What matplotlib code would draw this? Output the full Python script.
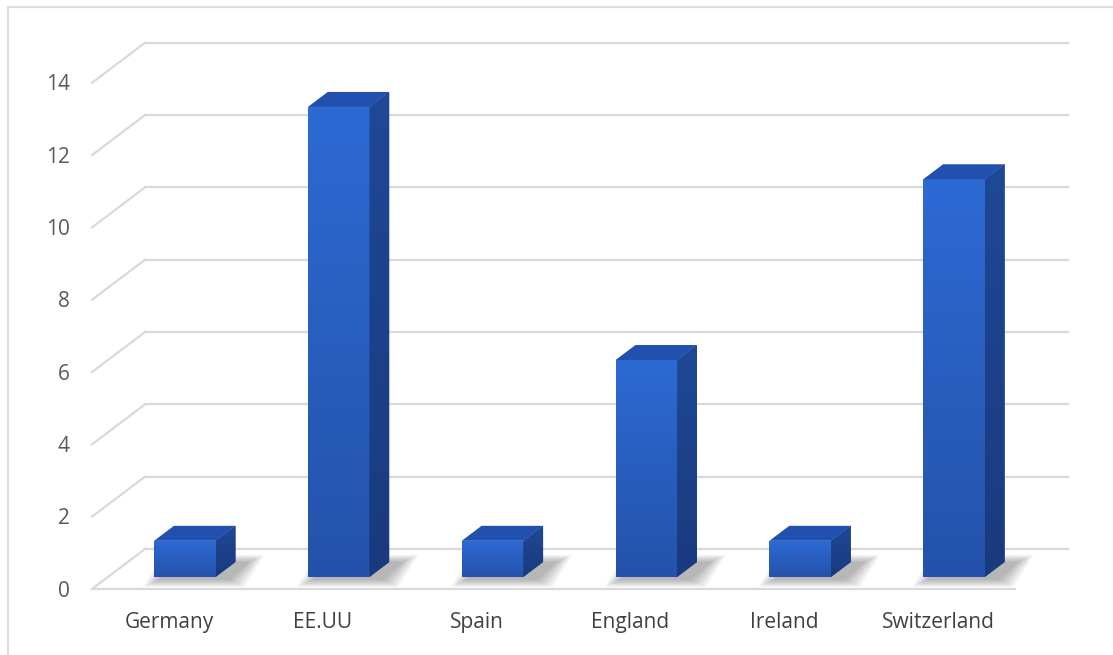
import numpy as np
import matplotlib.pyplot as plt
from matplotlib.patches import Polygon, Rectangle
from matplotlib.colors import LinearSegmentedColormap

# data
countries = ['Germany', 'EE.UU', 'Spain', 'England', 'Ireland', 'Switzerland']
values = [1, 13, 1, 6, 1, 11]
yticks = [0, 2, 4, 6, 8, 10, 12, 14]

# oblique "3D" depth: how far the back wall sits from the front edge
DX = 0.3445   # in category units
DY = 1.1065   # in value units
BAR_W = 0.4
BAR_FRONT = 0.3   # depth fraction of the bar's front face
BAR_BACK = 0.675  # depth fraction of the bar's back face

plt.rcParams['font.family'] = ['Open Sans', 'DejaVu Sans']

fig = plt.figure(figsize=(11.13, 6.55), dpi=100)
ax = fig.add_axes([0, 0, 1, 1])
ax.set_xlim(-1.098, 6.137)
ax.set_ylim(-1.826, 16.29)
ax.axis('off')

# frame around the chart area
fig.patches.append(Rectangle((8 / 1113, -0.1), 1.2, 1.1 - 6.5 / 655,
                             transform=fig.transFigure, fill=False,
                             edgecolor='#dcdce8', lw=1.6))

grid_c = '#d9d9d9'
x_left, x_right = -0.5, len(countries) - 0.5

# back wall gridlines plus the diagonal on the left side wall
for t in yticks:
    ax.plot([x_left + DX, x_right + DX], [t + DY, t + DY], color=grid_c, lw=1.6, zorder=1)
    ax.plot([x_left, x_left + DX], [t, t + DY], color=grid_c, lw=1.6, zorder=1)
    ax.text(x_left - 0.145, t - 0.06, str(t), ha='right', va='center',
            fontsize=15, color='#595959')

# front edge of the floor
ax.plot([x_left, x_right], [0, 0], color=grid_c, lw=1.6, zorder=1)

for i, c in enumerate(countries):
    ax.text(i, -0.92, c, ha='center', va='center', fontsize=15, color='#404040')

xs = np.arange(len(countries)) + DX * BAR_FRONT
yb = DY * BAR_FRONT
ddx = DX * (BAR_BACK - BAR_FRONT)
ddy = DY * (BAR_BACK - BAR_FRONT)

# soft floor shadows
for x, v in zip(xs, values):
    for k in range(10):
        e = 0.011 * k
        sx = 0.09
        pts = [(x - BAR_W / 2 - e + sx * 0.3, yb - 0.08 - e * 2),
               (x + BAR_W / 2 + e + sx, yb - 0.08 - e * 2),
               (x + BAR_W / 2 + ddx + e + sx, yb + ddy + e * 2),
               (x - BAR_W / 2 + ddx - e + sx * 0.3, yb + ddy + e * 2)]
        ax.add_patch(Polygon(pts, closed=True, facecolor='#303030',
                             edgecolor='none', alpha=0.04, zorder=2))

front_cmap = LinearSegmentedColormap.from_list('front', ['#2452aa', '#2d6ad4'])
side_cmap = LinearSegmentedColormap.from_list('side', ['#1a3a7e', '#1f4896'])
grad = np.linspace(0, 1, 256).reshape(-1, 1)

bars = ax.bar(xs, values, width=BAR_W, bottom=yb, color='#2860c2',
              linewidth=0, zorder=3)

for bar, v in zip(bars, values):
    x0 = bar.get_x()
    x1 = x0 + bar.get_width()
    yt = yb + v
    img = ax.imshow(grad, extent=[x0, x1, yb, yt], origin='lower',
                    cmap=front_cmap, aspect='auto', zorder=4)
    img.set_clip_path(bar)

    side = Polygon([(x1, yb), (x1 + ddx, yb + ddy), (x1 + ddx, yt + ddy), (x1, yt)],
                   closed=True, facecolor='#1d4189', edgecolor='none', zorder=3)
    ax.add_patch(side)
    simg = ax.imshow(grad, extent=[x1, x1 + ddx, yb, yt + ddy], origin='lower',
                     cmap=side_cmap, aspect='auto', zorder=4)
    simg.set_clip_path(side)

    top = Polygon([(x0, yt), (x1, yt), (x1 + ddx, yt + ddy), (x0 + ddx, yt + ddy)],
                  closed=True, facecolor='#2150ae', edgecolor='none', zorder=5)
    ax.add_patch(top)

ax.set_xlim(-1.098, 6.137)
ax.set_ylim(-1.826, 16.29)

plt.savefig('out.png', dpi=100)
